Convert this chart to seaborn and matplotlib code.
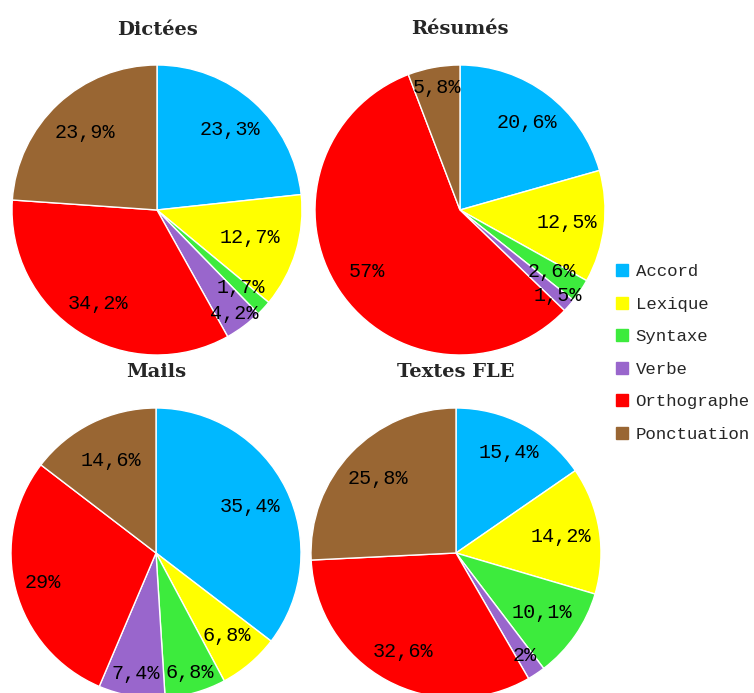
import numpy as np
import matplotlib.pyplot as plt
import seaborn as sns
from matplotlib.lines import Line2D

sns.set_theme(style="white")

categories = ["Accord", "Lexique", "Syntaxe", "Verbe", "Orthographe", "Ponctuation"]
titles = ["Dictées", "Résumés", "Mails", "Textes FLE"]
dictees = [23.3, 12.7, 1.7, 4.2, 34.2, 23.9]
resumes = [20.6, 12.5, 2.6, 1.5, 57, 5.8]
mails = [35.4, 6.8, 6.8, 7.4, 29, 14.6]
textes_fle = [15.4, 14.2, 10.1, 2, 32.6, 25.8]
series = [dictees, resumes, mails, textes_fle]

colors = sns.color_palette(["#00b8ff", "#ffff00", "#3deb3d", "#9966cc", "#ff0000", "#996633"])

W, H = 754, 693
fig = plt.figure(figsize=(W / 100, H / 100), dpi=100)

# layout: pie centres / radius in pixels, title heights, label distances
centres = [(157, 210), (460, 210), (156, 553), (456, 553)]
title_y = [30, 29, 372, 372]
R = 145
label_r = [
    [0.75, 0.67, 0.79, 0.89, 0.76, 0.73],
    [0.76, 0.74, 0.76, 0.90, 0.77, 0.86],
    [0.72, 0.75, 0.86, 0.84, 0.81, 0.71],
    [0.78, 0.73, 0.72, 0.85, 0.77, 0.74],
]


def fmt(p):
    return f"{round(p, 1):g}".replace(".", ",") + "%"


for vals, title, (cx, cy), ty, lr in zip(series, titles, centres, title_y, label_r):
    ax = fig.add_axes([(cx - R) / W, (H - cy - R) / H, 2 * R / W, 2 * R / H])
    wedges, _, autotexts = ax.pie(vals, colors=colors, startangle=90, counterclock=False,
                                  autopct=fmt, pctdistance=0.75,
                                  wedgeprops=dict(edgecolor="white", linewidth=1),
                                  textprops=dict(family="Liberation Mono", fontsize=14.5, color="black"))
    for w, t, r in zip(wedges, autotexts, lr):
        ang = np.deg2rad((w.theta1 + w.theta2) / 2)
        t.set_position((r * np.cos(ang), r * np.sin(ang)))
    ax.set_xlim(-1, 1)
    ax.set_ylim(-1, 1)
    ax.set_aspect("equal")
    fig.text(cx / W, 1 - ty / H, title, ha="center", va="center",
             family="DejaVu Serif", fontweight="bold", fontsize=14)

handles = [Line2D([], [], marker="s", linestyle="", markersize=8, color=c) for c in colors]
fig.legend(handles, categories, loc="center left", bbox_to_anchor=(613 / W, 1 - 353 / H),
           frameon=False, borderpad=0, borderaxespad=0, handletextpad=0.3,
           labelspacing=1.0, handlelength=1.0, prop=dict(family="Liberation Mono", size=12.5))

plt.savefig("out.png", dpi=100)
